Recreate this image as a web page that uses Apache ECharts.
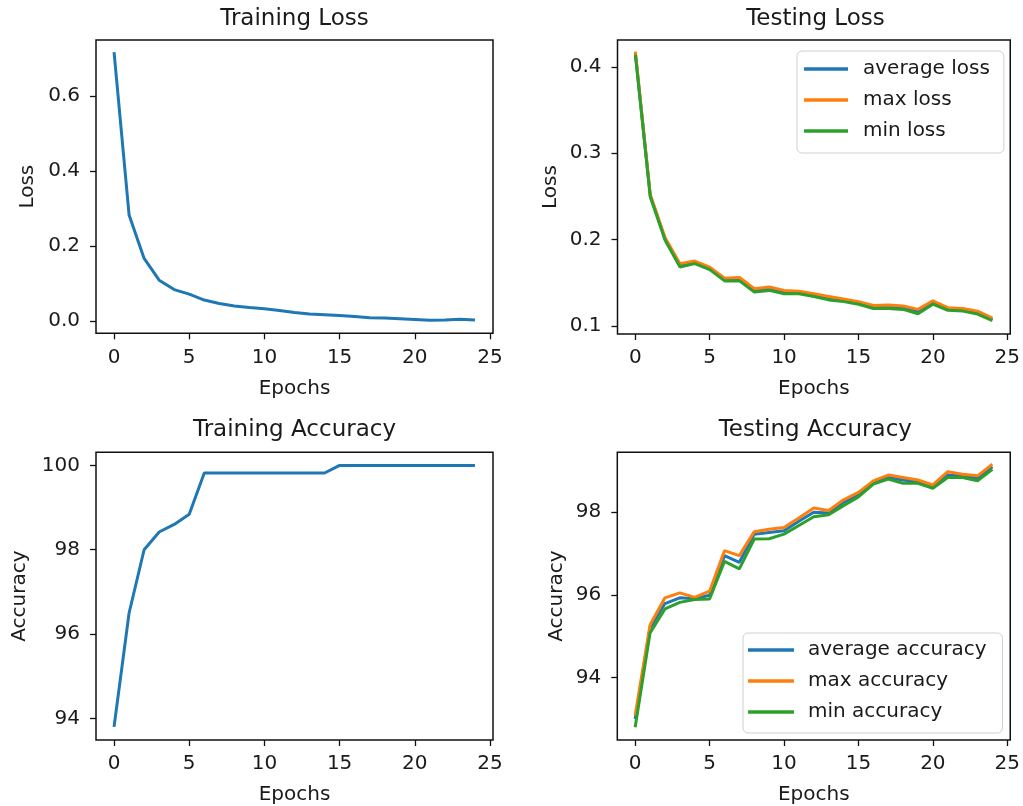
<!DOCTYPE html>
<html>
<head>
<meta charset="utf-8">
<script src="https://cdn.jsdelivr.net/npm/echarts@6/dist/echarts.min.js"></script>
<style>
html,body{margin:0;padding:0;background:#fff;}
#chart{width:1023px;height:806px;}
</style>
</head>
<body>
<div id="chart"></div>
<script>
// ---------- data ----------
const epochs = [0,1,2,3,4,5,6,7,8,9,10,11,12,13,14,15,16,17,18,19,20,21,22,23,24];

const trainLoss = [0.717,0.283,0.167,0.109,0.084,0.072,0.056,0.047,0.040,0.036,0.033,0.028,0.023,0.019,0.017,0.015,0.012,0.009,0.008,0.006,0.004,0.002,0.003,0.005,0.003];

const testLossAvg = [0.416,0.251,0.2005,0.170,0.1735,0.1665,0.1535,0.154,0.141,0.143,0.139,0.1385,0.1355,0.132,0.1295,0.1265,0.122,0.122,0.121,0.1165,0.127,0.1195,0.1185,0.115,0.1075];
const testLossMax = [0.4175,0.252,0.202,0.172,0.175,0.168,0.155,0.156,0.143,0.145,0.141,0.140,0.137,0.134,0.131,0.128,0.1236,0.124,0.123,0.119,0.129,0.121,0.120,0.117,0.109];
const testLossMin = [0.414,0.2495,0.199,0.168,0.172,0.165,0.152,0.152,0.139,0.141,0.137,0.137,0.134,0.130,0.128,0.125,0.120,0.120,0.119,0.114,0.125,0.118,0.117,0.1135,0.106];

const trainAcc = [93.8,96.5,98.0,98.42,98.6,98.84,99.82,99.82,99.82,99.82,99.82,99.82,99.82,99.82,99.82,100,100,100,100,100,100,100,100,100,100];

const testAccAvg = [93.0,95.2,95.79,95.93,95.91,95.99,96.95,96.79,97.47,97.51,97.55,97.78,98.0,97.98,98.24,98.42,98.72,98.84,98.78,98.74,98.62,98.9,98.88,98.82,99.1];
const testAccMax = [93.08,95.27,95.93,96.05,95.94,96.09,97.07,96.95,97.53,97.59,97.63,97.86,98.1,98.04,98.3,98.48,98.76,98.9,98.84,98.78,98.66,98.98,98.92,98.88,99.16];
const testAccMin = [92.8,95.08,95.66,95.82,95.89,95.9,96.81,96.63,97.35,97.36,97.47,97.68,97.89,97.94,98.16,98.37,98.68,98.8,98.7,98.7,98.58,98.84,98.84,98.76,99.04];

const titles = ['Training Loss','Testing Loss','Training Accuracy','Testing Accuracy'];
const xName = 'Epochs';
const yNames = ['Loss','Loss','Accuracy','Accuracy'];

const xTicks = [0,5,10,15,20,25];
const trainLossTicks = [0.0,0.2,0.4,0.6];
const testLossTicks = [0.1,0.2,0.3,0.4];
const trainAccTicks = [94,96,98,100];
const testAccTicks = [94,96,98];

const lossLegend = ['average loss','max loss','min loss'];
const accLegend = ['average accuracy','max accuracy','min accuracy'];

// ---------- styling ----------
const FONT = 'DejaVu Sans';
const TXT = '#1a1a1a';
const C_BLUE = '#1f77b4', C_ORANGE = '#ff7f0e', C_GREEN = '#2ca02c';

const grids = [
  {left: 96,    top: 40,    width: 397, height: 293.3},
  {left: 617.5, top: 40,    width: 396, height: 294},
  {left: 96,    top: 452.3, width: 397, height: 290.4},
  {left: 617.3, top: 452.3, width: 396, height: 290.4}
];
const yLims = [[-0.0326,0.7496],[0.0905,0.431],[93.49,100.31],[92.49,99.45]];
const yTickSets = [trainLossTicks, testLossTicks, trainAccTicks, testAccTicks];
const yFmt = [v=>v.toFixed(1), v=>v.toFixed(1), v=>String(Math.round(v)), v=>String(Math.round(v))];
const yNameGaps = [58, 57, 66, 51];
const titleTops = [8, 8, 419, 419];

function pairs(ys){ return epochs.map((e,i)=>[e, ys[i]]); }

const option = {
  backgroundColor: '#fff',
  animation: false,
  title: grids.map((g,i)=>({
    text: titles[i],
    left: g.left + g.width/2,
    top: titleTops[i],
    textAlign: 'center',
    padding: 0,
    textStyle: {fontFamily: FONT, fontSize: 23, fontWeight: 'normal', color: TXT}
  })),
  grid: grids.map(g=>Object.assign({show:true, borderColor:'#111', borderWidth:1.5, backgroundColor:'#fff', containLabel:false}, g)),
  xAxis: grids.map((g,i)=>({
    type: 'value', gridIndex: i, min: -1.2, max: 25.2,
    name: xName, nameLocation: 'middle', nameGap: 45,
    nameTextStyle: {fontFamily: FONT, fontSize: 20, color: TXT},
    axisLine: {show: false, onZero: false},
    splitLine: {show: false},
    axisTick: {show: true, length: 6, lineStyle: {color: '#111', width: 1.3}, customValues: xTicks},
    axisLabel: {fontFamily: FONT, fontSize: 20, color: TXT, margin: 14, customValues: xTicks}
  })),
  yAxis: grids.map((g,i)=>({
    type: 'value', gridIndex: i, min: yLims[i][0], max: yLims[i][1],
    name: yNames[i], nameLocation: 'middle', nameGap: yNameGaps[i],
    nameTextStyle: {fontFamily: FONT, fontSize: 20, color: TXT},
    axisLine: {show: false, onZero: false},
    splitLine: {show: false},
    axisTick: {show: true, length: 6, lineStyle: {color: '#111', width: 1.3}, customValues: yTickSets[i]},
    axisLabel: {fontFamily: FONT, fontSize: 20, color: TXT, margin: 16, customValues: yTickSets[i], formatter: yFmt[i]}
  })),
  legend: [
    {
      data: lossLegend, orient: 'vertical', left: 797, top: 51,
      icon: 'rect', itemWidth: 44, itemHeight: 3.5, itemGap: 11,
      padding: [8, 14, 12, 7],
      backgroundColor: 'rgba(255,255,255,0.8)', borderColor: '#d0d0d0', borderWidth: 1, borderRadius: 5,
      textStyle: {fontFamily: FONT, fontSize: 20, color: TXT, padding: [0,0,0,10]}
    },
    {
      data: accLegend, orient: 'vertical', left: 743, top: 633,
      icon: 'rect', itemWidth: 46, itemHeight: 3.5, itemGap: 11,
      padding: [7, 16, 11, 5],
      backgroundColor: 'rgba(255,255,255,0.8)', borderColor: '#d0d0d0', borderWidth: 1, borderRadius: 5,
      textStyle: {fontFamily: FONT, fontSize: 20, color: TXT, padding: [0,0,0,9]}
    }
  ],
  series: [
    {name: 'training loss', type: 'line', xAxisIndex: 0, yAxisIndex: 0, data: pairs(trainLoss), showSymbol: false, color: C_BLUE, lineStyle: {width: 3}},
    {name: lossLegend[0], type: 'line', xAxisIndex: 1, yAxisIndex: 1, data: pairs(testLossAvg), showSymbol: false, color: C_BLUE, lineStyle: {width: 3}},
    {name: lossLegend[1], type: 'line', xAxisIndex: 1, yAxisIndex: 1, data: pairs(testLossMax), showSymbol: false, color: C_ORANGE, lineStyle: {width: 3}},
    {name: lossLegend[2], type: 'line', xAxisIndex: 1, yAxisIndex: 1, data: pairs(testLossMin), showSymbol: false, color: C_GREEN, lineStyle: {width: 3}},
    {name: 'training accuracy', type: 'line', xAxisIndex: 2, yAxisIndex: 2, data: pairs(trainAcc), showSymbol: false, color: C_BLUE, lineStyle: {width: 3}},
    {name: accLegend[0], type: 'line', xAxisIndex: 3, yAxisIndex: 3, data: pairs(testAccAvg), showSymbol: false, color: C_BLUE, lineStyle: {width: 3}},
    {name: accLegend[1], type: 'line', xAxisIndex: 3, yAxisIndex: 3, data: pairs(testAccMax), showSymbol: false, color: C_ORANGE, lineStyle: {width: 3}},
    {name: accLegend[2], type: 'line', xAxisIndex: 3, yAxisIndex: 3, data: pairs(testAccMin), showSymbol: false, color: C_GREEN, lineStyle: {width: 3}}
  ]
};

const chart = echarts.init(document.getElementById('chart'), null, {renderer: 'canvas'});
chart.setOption(option);
</script>
</body>
</html>
